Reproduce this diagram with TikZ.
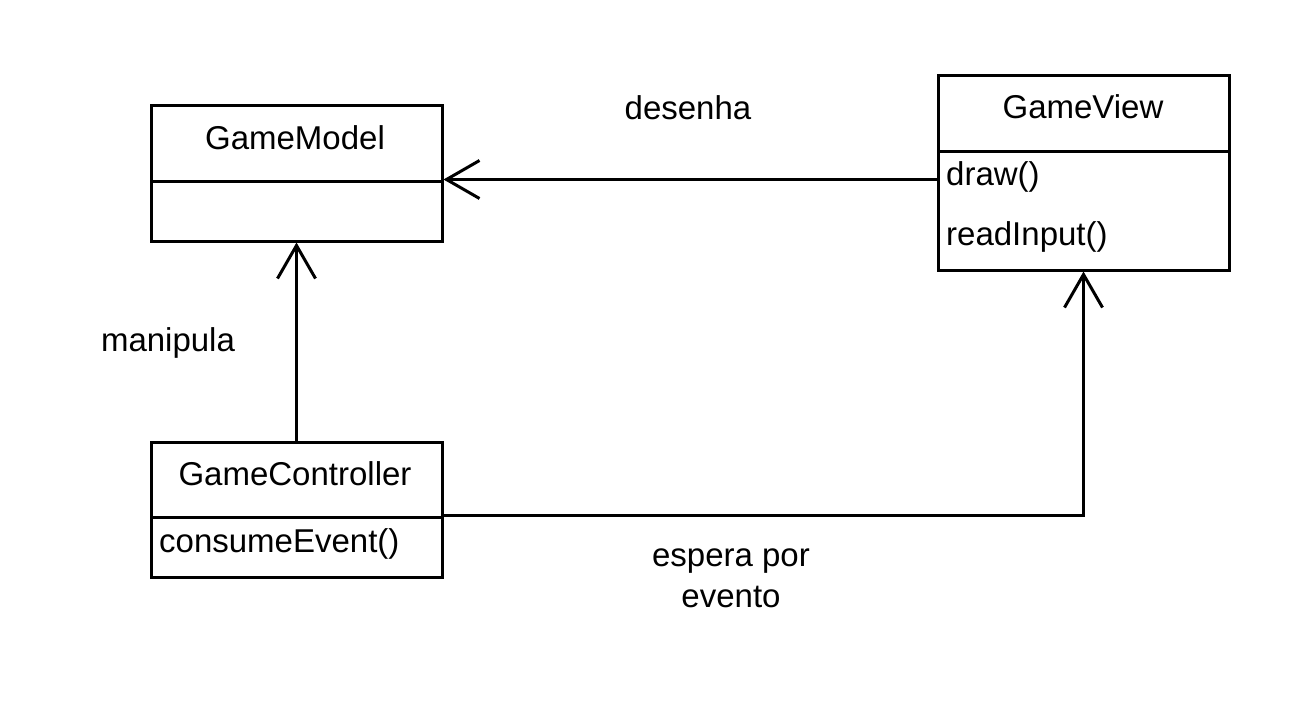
\documentclass[tikz,border=0pt]{standalone}
\usepackage{fontspec}
\setmainfont{Liberation Sans}
\usetikzlibrary{arrows.meta,positioning}
\begin{document}
\begin{tikzpicture}[x=1pt,y=-1pt,
  box/.style={draw,line width=3pt,minimum width=291pt,inner sep=0pt,anchor=north west},
  txt/.style={font=\fontsize{33}{39}\selectfont,inner sep=0pt},
  conn/.style={line width=3pt,-{Straight Barb[length=33pt,width=38pt,line width=3pt]}}]
\useasboundingbox (0,0) rectangle (1303,707);
% GameModel
\node[box,minimum height=76pt] (gmh) at (149.5,103.5) {};
\node[box,minimum height=60pt] (gmb) at (149.5,179.5) {};
\node[txt] (gmt) at (295,138) {GameModel};
% GameView
\node[box,minimum height=76pt] (gvh) at (936.5,73.5) {};
\node[box,minimum height=119pt] (gvb) at (936.5,149.5) {};
\node[txt] (gvt) at (1083,107) {GameView};
\node[txt,anchor=west] (gvm1) at (946,177) {draw()};
\node[txt,anchor=west] (gvm2) at (946,237) {readInput()};
% GameController
\node[box,minimum height=75pt] (gch) at (149.5,440.5) {};
\node[box,minimum height=60pt] (gcb) at (149.5,515.5) {};
\node[txt] (gct) at (295,474) {GameController};
\node[txt,anchor=west] (gcm) at (159,544) {consumeEvent()};
% connectors
\draw[conn] ([yshift=-30pt]gvb.north west) -- (gmb.north east);
\draw[conn] (gch.north) -- (gmb.south);
\coordinate (corner) at (gvb.south |- gcb.north east);
\draw[conn] (gcb.north east) -- (corner) -- (gvb.south);
% labels
\node[txt] (l1) at (688,108) {desenha};
\node[txt] (l2) at (168,343) {manipula};
\node[txt,align=center,font=\fontsize{33}{41}\selectfont] (l3) at (731,578) {espera por\\evento};
\end{tikzpicture}
\end{document}
